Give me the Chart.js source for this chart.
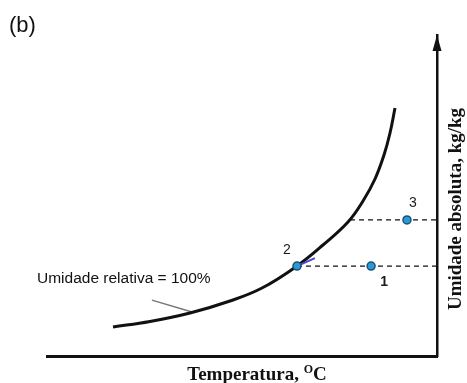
<!DOCTYPE html>
<html>
<head>
<meta charset="utf-8">
<script src="https://cdn.jsdelivr.net/npm/chart.js@4.4.1/dist/chart.umd.min.js"></script>
<style>
  html, body { margin: 0; padding: 0; background: #fff; }
  canvas { display: block; }
</style>
</head>
<body>
<canvas id="myChart" width="467" height="383"></canvas>
<script>
// curva de saturacao (umidade relativa = 100%)
var curveX = [16.92, 26.41, 36.67, 46.92, 55.13, 64.10, 70.77, 77.18, 81.03, 84.10, 86.41, 87.95, 89.23];
var curveY = [9.03, 10.75, 13.40, 17.13, 21.18, 28.04, 34.58, 41.74, 48.29, 55.14, 62.62, 69.47, 77.26];

// estados 1, 2, 3
var pointNames = ['1', '2', '3'];
var pointX = [83.1, 64.1, 92.3];
var pointY = [28.0, 28.0, 42.4];

// inicio das linhas tracejadas (x) ate o eixo
var dashStartX = [64.1, 77.7];
var dashY = [28.0, 42.4];

// seta do rotulo "Umidade relativa = 100%"
var pointerX = [26.9, 37.2];
var pointerY = [17.4, 13.7];

// pequeno traco azul junto ao ponto 2
var blueX = [64.1, 68.7];
var blueY = [28.0, 30.5];

var annotationText = 'Umidade relativa = 100%';
var xTitle = 'Temperatura, ';
var yTitle = 'Umidade absoluta, kg/kg';

function xy(xs, ys) {
    return xs.map(function (x, i) { return { x: x, y: ys[i] }; });
}

var textPlugin = {
    id: 'textos',
    afterDraw: function (chart) {
        var ctx = chart.ctx;
        var sx = chart.scales.x, sy = chart.scales.y;
        var area = chart.chartArea;
        ctx.save();

        // (b)
        ctx.fillStyle = '#111';
        ctx.font = '22px "Liberation Sans", Arial, sans-serif';
        ctx.textAlign = 'left';
        ctx.textBaseline = 'middle';
        ctx.fillText('(b)', 9, 26);

        // rotulo da curva
        ctx.font = '15.5px "Liberation Sans", Arial, sans-serif';
        ctx.fillText(annotationText, 37, 279);

        // rotulos dos pontos
        var offs = { '1': [13, 16, 'bold '], '2': [-10, -16, ''], '3': [6, -17, ''] };
        ctx.textAlign = 'center';
        pointNames.forEach(function (n, i) {
            var px = sx.getPixelForValue(pointX[i]);
            var py = sy.getPixelForValue(pointY[i]);
            ctx.font = offs[n][2] + '14px "Liberation Sans", Arial, sans-serif';
            ctx.fillStyle = '#1a1a1a';
            ctx.fillText(n, px + offs[n][0], py + offs[n][1]);
        });

        // seta do eixo y
        var ax = area.right;
        ctx.fillStyle = '#111';
        ctx.beginPath();
        ctx.moveTo(ax, area.top);
        ctx.lineTo(ax - 4.5, area.top + 16);
        ctx.lineTo(ax + 4.5, area.top + 16);
        ctx.closePath();
        ctx.fill();

        // titulo do eixo x
        ctx.fillStyle = '#111';
        ctx.textBaseline = 'alphabetic';
        ctx.textAlign = 'left';
        var fMain = 'bold 19px "Liberation Serif", "Times New Roman", serif';
        var fSup = 'bold 12px "Liberation Serif", "Times New Roman", serif';
        ctx.font = fMain;
        var w1 = ctx.measureText(xTitle).width;
        var w3 = ctx.measureText('C').width;
        ctx.font = fSup;
        var w2 = ctx.measureText('O').width;
        var x0 = 257 - (w1 + w2 + w3) / 2;
        var base = 380;
        ctx.font = fMain;
        ctx.fillText(xTitle, x0, base);
        ctx.font = fSup;
        ctx.fillText('O', x0 + w1, base - 7);
        ctx.font = fMain;
        ctx.fillText('C', x0 + w1 + w2, base);

        // titulo do eixo y
        ctx.translate(456, 209);
        ctx.rotate(-Math.PI / 2);
        ctx.textAlign = 'center';
        ctx.textBaseline = 'middle';
        ctx.font = 'bold 19px "Liberation Serif", "Times New Roman", serif';
        ctx.fillText(yTitle, 0, 0);
        ctx.restore();
    }
};

var datasets = [{
    label: 'Estados',
    data: xy(pointX, pointY),
    showLine: false,
    pointRadius: 4,
    pointBackgroundColor: '#2a9ad2',
    pointBorderColor: '#1d4f7c',
    pointBorderWidth: 1.5
}, {
    label: 'azul',
    data: xy(blueX, blueY),
    showLine: true,
    borderColor: '#4848d8',
    borderWidth: 2,
    pointRadius: 0
}, {
    label: 'Umidade relativa = 100%',
    data: xy(curveX, curveY),
    showLine: true,
    borderColor: '#111',
    borderWidth: 3,
    tension: 0.4,
    pointRadius: 0
}, {
    label: 'seta',
    data: xy(pointerX, pointerY),
    showLine: true,
    borderColor: '#777',
    borderWidth: 1.5,
    pointRadius: 0
}];

dashY.forEach(function (y, i) {
    datasets.push({
        label: 'tracejado ' + (i + 1),
        data: [{ x: dashStartX[i], y: y }, { x: 100, y: y }],
        showLine: true,
        borderColor: '#111',
        borderWidth: 1.2,
        borderDash: [5, 4],
        pointRadius: 0
    });
});

var ctx1 = document.getElementById('myChart').getContext('2d');
var chart = new Chart(ctx1, {
    type: 'scatter',
    data: { datasets: datasets },
    options: {
        responsive: false,
        animation: false,
        layout: {
            padding: { left: 47, right: 30, top: 35, bottom: 27 }
        },
        scales: {
            x: {
                type: 'linear', min: 0, max: 100, position: 'bottom',
                grid: { display: false, drawTicks: false },
                ticks: { display: false },
                border: { display: true, color: '#111', width: 3 }
            },
            y: {
                type: 'linear', min: 0, max: 100, position: 'right',
                grid: { display: false, drawTicks: false },
                ticks: { display: false },
                border: { display: true, color: '#111', width: 2.5 }
            }
        },
        plugins: {
            legend: { display: false },
            tooltip: { enabled: false }
        }
    },
    plugins: [textPlugin]
});
</script>
</body>
</html>
